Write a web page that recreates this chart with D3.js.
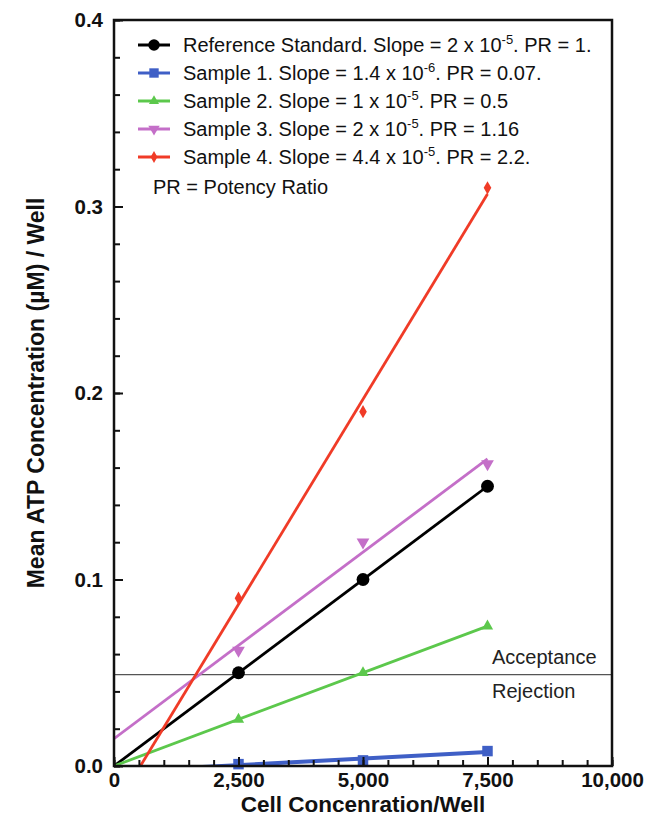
<!DOCTYPE html>
<html>
<head>
<meta charset="utf-8">
<script src="https://cdn.jsdelivr.net/npm/d3@7"></script>
<style>
  body { margin: 0; background: #fff; }
  svg { font-family: "Liberation Sans", Arial, sans-serif; }
</style>
</head>
<body>
<svg id="chart"></svg>
<script>
// values
const cellConc = [2500, 5000, 7500];
const refStd = [0.05, 0.1, 0.15];
const sample1 = [0.001, 0.003, 0.008];
const sample2 = [0.025, 0.05, 0.075];
const sample3 = [0.062, 0.12, 0.162];
const sample4 = [0.09, 0.19, 0.31];
const cutoff = 0.049;

const xTicks = [0, 2500, 5000, 7500, 10000];
const yTicks = [0, 0.1, 0.2, 0.3, 0.4];

const legendText = [
  ["Reference Standard. Slope = 2 x 10", "-5", ". PR = 1."],
  ["Sample 1. Slope = 1.4 x 10", "-6", ". PR = 0.07."],
  ["Sample 2. Slope = 1 x 10", "-5", ". PR = 0.5"],
  ["Sample 3. Slope = 2 x 10", "-5", ". PR = 1.16"],
  ["Sample 4. Slope = 4.4 x 10", "-5", ". PR = 2.2."]
];

const width = 647;
const height = 817;
const margin = {left: 114, right: 35, top: 20, bottom: 51};

const svg = d3.select('#chart')
  .attr('width', width)
  .attr('height', height);

const x = d3.scaleLinear()
  .domain([0, 10000])
  .range([margin.left, width - margin.right]);
const y = d3.scaleLinear()
  .domain([0, 0.4])
  .range([height - margin.bottom, margin.top]);

const series = [
  {vals: refStd, color: '#000000', symbol: d3.symbolCircle, size: 130, width: 2.8},
  {vals: sample1, color: '#3f5fc6', symbol: d3.symbolSquare, size: 110, width: 4},
  {vals: sample2, color: '#5cc84c', symbol: d3.symbolTriangle, size: 55, width: 2.8},
  {vals: sample3, color: '#c46fc8', symbol: d3.symbolTriangle, size: 70, width: 2.8, rotate: 180},
  {vals: sample4, color: '#f03b27', symbol: d3.symbolDiamond, size: 50, width: 2.8}
];

// least squares line through each set of points
function fit(vals) {
  const mx = d3.mean(cellConc), my = d3.mean(vals);
  let num = 0, den = 0;
  cellConc.forEach((c, i) => { num += (c - mx) * (vals[i] - my); den += (c - mx) * (c - mx); });
  const slope = num / den;
  return {slope: slope, intercept: my - slope * mx};
}

svg.append('clipPath').attr('id', 'plotClip')
  .append('rect')
  .attr('x', x(0)).attr('y', y(0.4))
  .attr('width', x(10000) - x(0)).attr('height', y(0) - y(0.4));

// acceptance line
svg.append('line')
  .attr('x1', x(0)).attr('x2', x(10000))
  .attr('y1', y(cutoff)).attr('y2', y(cutoff))
  .attr('stroke', '#555').attr('stroke-width', 1.2);

svg.append('text').attr('x', 492).attr('y', y(cutoff) - 11)
  .attr('font-size', 20).attr('fill', '#222').text('Acceptance');
svg.append('text').attr('x', 492).attr('y', y(cutoff) + 23)
  .attr('font-size', 20).attr('fill', '#222').text('Rejection');

const plot = svg.append('g').attr('clip-path', 'url(#plotClip)');

series.forEach(s => {
  const f = fit(s.vals);
  plot.append('line')
    .attr('x1', x(0)).attr('y1', y(f.intercept))
    .attr('x2', x(7500)).attr('y2', y(f.intercept + f.slope * 7500))
    .attr('stroke', s.color).attr('stroke-width', s.width);
});

series.forEach(s => {
  svg.append('g').selectAll('path')
    .data(s.vals)
    .enter()
    .append('path')
    .attr('d', d3.symbol().type(s.symbol).size(s.size))
    .attr('transform', (d, i) => 'translate(' + x(cellConc[i]) + ',' + y(d) + ')' + (s.rotate ? ' rotate(' + s.rotate + ')' : ''))
    .attr('fill', s.color);
});

// axes with inward ticks
const xMinor = d3.axisBottom(x).tickValues(d3.range(0, 10001, 500)).tickSize(-6).tickFormat('');
const yMinor = d3.axisLeft(y).tickValues(d3.range(0, 0.4001, 0.02)).tickSize(-6).tickFormat('');
svg.append('g').attr('transform', 'translate(0,' + y(0) + ')').call(xMinor);
svg.append('g').attr('transform', 'translate(' + x(0) + ',0)').call(yMinor);

const xAxis = d3.axisBottom(x).tickValues(xTicks).tickSize(-9).tickPadding(6).tickFormat(d3.format(','));
const yAxis = d3.axisLeft(y).tickValues(yTicks).tickSize(-9).tickPadding(11).tickFormat(d3.format('.1f'));
const gx = svg.append('g').attr('transform', 'translate(0,' + y(0) + ')').call(xAxis);
const gy = svg.append('g').attr('transform', 'translate(' + x(0) + ',0)').call(yAxis);

[gx, gy].forEach(g => {
  g.selectAll('text').attr('font-size', 20.5).attr('font-weight', 'bold')
    .attr('font-family', '"Liberation Sans", Arial, sans-serif').attr('fill', '#111');
});
svg.selectAll('.tick line').attr('stroke', '#111').attr('stroke-width', 2);
svg.selectAll('.domain').remove();

svg.append('rect')
  .attr('x', x(0)).attr('y', y(0.4))
  .attr('width', x(10000) - x(0)).attr('height', y(0) - y(0.4))
  .attr('fill', 'none').attr('stroke', '#111').attr('stroke-width', 2.5);

// axis titles
svg.append('text')
  .attr('x', (x(0) + x(10000)) / 2).attr('y', 812)
  .attr('text-anchor', 'middle').attr('font-size', 22.5).attr('font-weight', 'bold')
  .attr('fill', '#111')
  .text('Cell Concenration/Well');

svg.append('text')
  .attr('transform', 'translate(44,' + (y(0.2)) + ') rotate(-90)')
  .attr('text-anchor', 'middle').attr('font-size', 23).attr('font-weight', 'bold')
  .attr('fill', '#111')
  .text('Mean ATP Concentration (µM) / Well');

// legend
const legend = svg.append('g');
legendText.forEach((t, i) => {
  const s = series[i];
  const ly = 45 + i * 28;
  legend.append('line')
    .attr('x1', 138).attr('x2', 170).attr('y1', ly).attr('y2', ly)
    .attr('stroke', s.color).attr('stroke-width', 3);
  legend.append('path')
    .attr('d', d3.symbol().type(s.symbol).size(s.size * 0.8))
    .attr('transform', 'translate(154,' + ly + ')' + (s.rotate ? ' rotate(' + s.rotate + ')' : ''))
    .attr('fill', s.color);
  const txt = legend.append('text')
    .attr('x', 183).attr('y', ly + 7)
    .attr('font-size', 20).attr('fill', '#111');
  txt.append('tspan').text(t[0]);
  txt.append('tspan').attr('font-size', 13).attr('dy', -8).text(t[1]);
  txt.append('tspan').attr('dy', 8).text(t[2]);
});
legend.append('text')
  .attr('x', 153).attr('y', 194)
  .attr('font-size', 20).attr('fill', '#111')
  .text('PR = Potency Ratio');
</script>
</body>
</html>
